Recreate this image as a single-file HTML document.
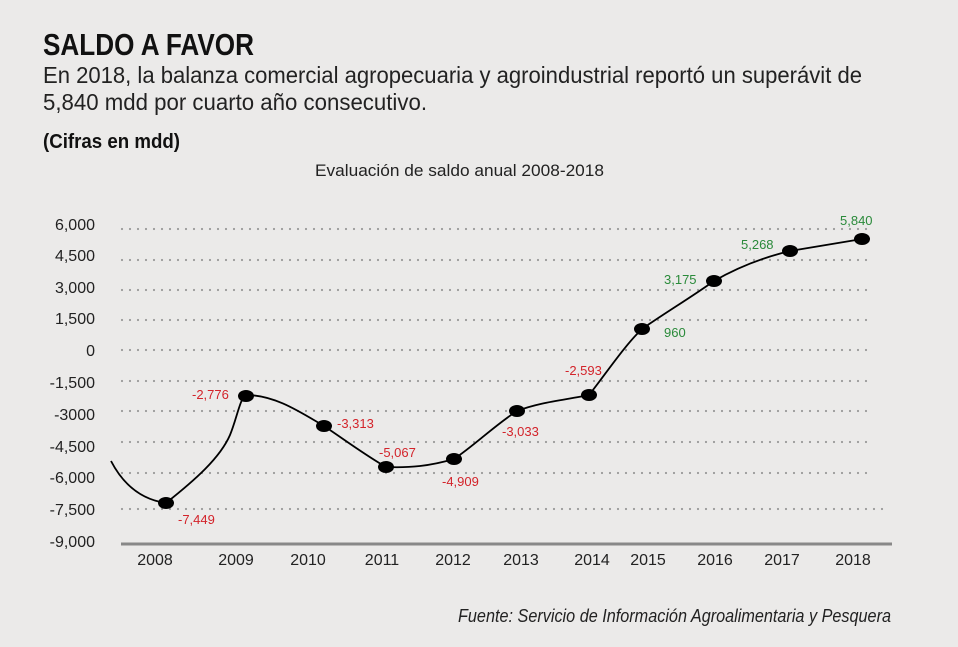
<!DOCTYPE html>
<html><head><meta charset="utf-8"><style>
html,body{margin:0;padding:0;background:#ebeae9;}
svg{display:block;font-family:"Liberation Sans Narrow","Liberation Sans",sans-serif;}
</style></head><body>
<svg width="958" height="647" viewBox="0 0 958 647" xmlns="http://www.w3.org/2000/svg">
<rect width="958" height="647" fill="#ebeae9"/>
<text x="43" y="55" font-size="31" font-weight="bold" fill="#111" textLength="211" lengthAdjust="spacingAndGlyphs">SALDO A FAVOR</text>
<text x="43" y="83" font-size="23" fill="#222" textLength="819" lengthAdjust="spacingAndGlyphs">En 2018, la balanza comercial agropecuaria y agroindustrial reportó un superávit de</text>
<text x="43" y="110" font-size="23" fill="#222" textLength="384" lengthAdjust="spacingAndGlyphs">5,840 mdd por cuarto año consecutivo.</text>
<text x="43" y="148" font-size="20" font-weight="bold" fill="#111" textLength="137" lengthAdjust="spacingAndGlyphs">(Cifras en mdd)</text>
<text x="315" y="176" font-size="17" fill="#222" textLength="289" lengthAdjust="spacingAndGlyphs">Evaluación de saldo anual 2008-2018</text>
<g stroke="#9a9a9a" stroke-width="2.2" stroke-dasharray="0 8" stroke-linecap="round">
<line x1="122" y1="229" x2="870" y2="229"/>
<line x1="122" y1="260" x2="870" y2="260"/>
<line x1="122" y1="290" x2="870" y2="290"/>
<line x1="122" y1="320" x2="870" y2="320"/>
<line x1="122" y1="350" x2="870" y2="350"/>
<line x1="122" y1="381" x2="870" y2="381"/>
<line x1="122" y1="411" x2="870" y2="411"/>
<line x1="122" y1="442" x2="870" y2="442"/>
<line x1="122" y1="473" x2="870" y2="473"/>
<line x1="122" y1="509" x2="885" y2="509"/>
</g>
<line x1="121" y1="544" x2="892" y2="544" stroke="#888" stroke-width="3"/>
<g font-size="16" fill="#222" text-anchor="end">
<text x="95" y="230">6,000</text>
<text x="95" y="261">4,500</text>
<text x="95" y="293">3,000</text>
<text x="95" y="324">1,500</text>
<text x="95" y="356">0</text>
<text x="95" y="388">-1,500</text>
<text x="95" y="420">-3000</text>
<text x="95" y="452">-4,500</text>
<text x="95" y="483">-6,000</text>
<text x="95" y="515">-7,500</text>
<text x="95" y="547">-9,000</text>
</g>
<g font-size="16" fill="#222" text-anchor="middle">
<text x="155" y="565">2008</text><text x="236" y="565">2009</text><text x="308" y="565">2010</text>
<text x="382" y="565">2011</text><text x="453" y="565">2012</text><text x="521" y="565">2013</text>
<text x="592" y="565">2014</text><text x="648" y="565">2015</text><text x="715" y="565">2016</text>
<text x="782" y="565">2017</text><text x="853" y="565">2018</text>
</g>
<path d="M111,461 C125,488 145,500 166,503 C195,480 220,458 230,435 C237,418 240,398 246,395 C275,395 300,412 324,426 C345,440 365,455 386,467 C410,468 430,466 454,459 C475,445 495,425 517,411 C540,402 565,400 589,395 C605,375 625,345 642,329 C665,313 690,298 714,281 C740,266 765,257 790,251 L862,239" fill="none" stroke="#000" stroke-width="1.8"/>
<g fill="#000">
<ellipse cx="166" cy="503" rx="8" ry="6"/><ellipse cx="246" cy="396" rx="8" ry="6"/>
<ellipse cx="324" cy="426" rx="8" ry="6"/><ellipse cx="386" cy="467" rx="8" ry="6"/>
<ellipse cx="454" cy="459" rx="8" ry="6"/><ellipse cx="517" cy="411" rx="8" ry="6"/>
<ellipse cx="589" cy="395" rx="8" ry="6"/><ellipse cx="642" cy="329" rx="8" ry="6"/>
<ellipse cx="714" cy="281" rx="8" ry="6"/><ellipse cx="790" cy="251" rx="8" ry="6"/>
<ellipse cx="862" cy="239" rx="8" ry="6"/>
</g>
<g font-size="13" fill="#d3232a">
<text x="178" y="524">-7,449</text>
<text x="192" y="399">-2,776</text>
<text x="337" y="428">-3,313</text>
<text x="379" y="457">-5,067</text>
<text x="442" y="486">-4,909</text>
<text x="502" y="436">-3,033</text>
<text x="565" y="375">-2,593</text>
</g>
<g font-size="13" fill="#2a8a3a">
<text x="664" y="337">960</text>
<text x="664" y="284">3,175</text>
<text x="741" y="249">5,268</text>
<text x="840" y="225">5,840</text>
</g>
<text x="891" y="622" font-size="18" font-style="italic" fill="#222" text-anchor="end" textLength="433" lengthAdjust="spacingAndGlyphs">Fuente: Servicio de Información Agroalimentaria y Pesquera</text>
</svg>
</body></html>
